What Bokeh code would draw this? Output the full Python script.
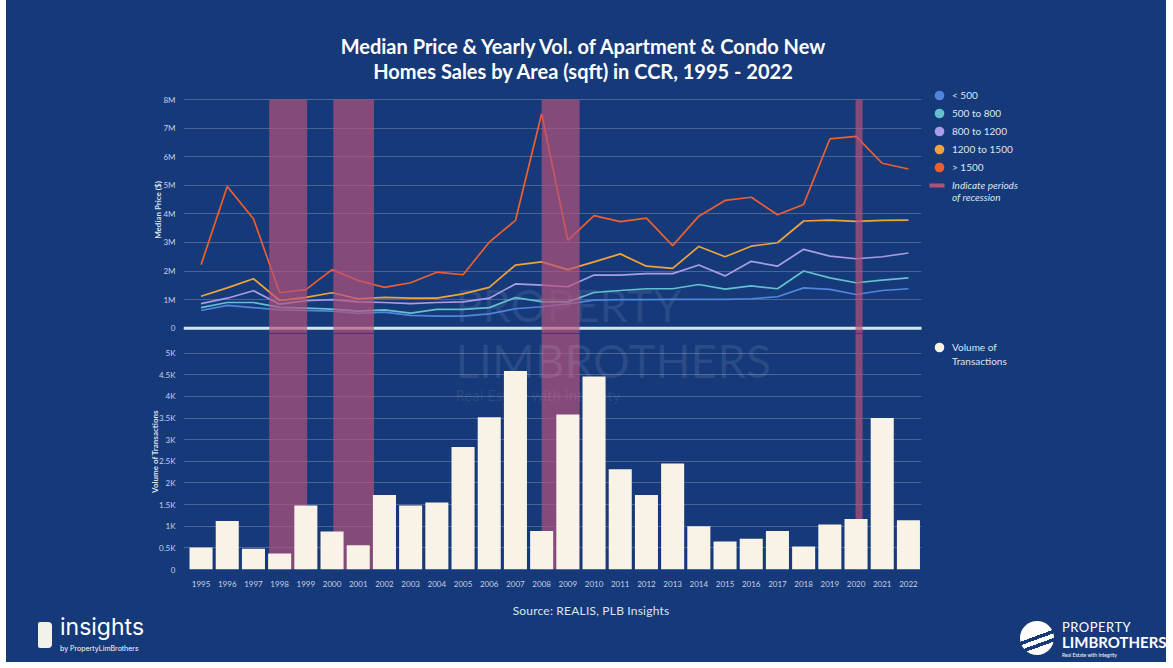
from bokeh.plotting import figure
from bokeh.models import Range1d, FixedTicker, BoxAnnotation, Legend, LegendItem, Label, Span, Div
from bokeh.layouts import column
from bokeh.embed import file_html
from bokeh.resources import INLINE

# ---------------- data ----------------
years = list(range(1995, 2023))

# median price in $ millions
price_lt500 = [0.62, 0.80, 0.72, 0.64, 0.62, 0.60, 0.52, 0.56, 0.45, 0.42, 0.42, 0.50, 0.68, 0.75,
               0.85, 0.98, 1.00, 1.00, 1.01, 1.01, 1.01, 1.03, 1.10, 1.41, 1.36, 1.18, 1.32, 1.38]
price_500_800 = [0.72, 0.90, 0.90, 0.73, 0.70, 0.67, 0.60, 0.64, 0.53, 0.66, 0.66, 0.72, 1.07, 0.93,
                 0.92, 1.25, 1.32, 1.38, 1.38, 1.53, 1.37, 1.48, 1.38, 2.00, 1.76, 1.59, 1.68, 1.76]
price_800_1200 = [0.86, 1.05, 1.31, 0.84, 0.96, 1.00, 0.92, 0.90, 0.86, 0.90, 0.92, 1.05, 1.55, 1.51,
                  1.45, 1.86, 1.86, 1.91, 1.91, 2.21, 1.83, 2.34, 2.17, 2.76, 2.52, 2.43, 2.50, 2.63]
price_1200_1500 = [1.12, 1.41, 1.73, 0.97, 1.08, 1.24, 1.03, 1.08, 1.05, 1.05, 1.20, 1.43, 2.21, 2.32,
                   2.05, 2.32, 2.60, 2.17, 2.09, 2.86, 2.50, 2.87, 2.99, 3.75, 3.78, 3.74, 3.77, 3.78]
price_gt1500 = [2.22, 4.96, 3.83, 1.24, 1.35, 2.05, 1.67, 1.43, 1.59, 1.96, 1.87, 3.01, 3.77, 7.50,
                3.07, 3.94, 3.73, 3.85, 2.89, 3.92, 4.47, 4.58, 3.97, 4.33, 6.62, 6.71, 5.77, 5.57]
series_names = ["< 500", "500 to 800", "800 to 1200", "1200 to 1500", "> 1500"]

volume = [510, 1120, 480, 370, 1480, 880, 560, 1720, 1480, 1550, 2830, 3520, 4590, 890,
          3580, 4460, 2320, 1720, 2450, 1000, 650, 710, 890, 530, 1040, 1170, 3500, 1140]

recession_start = [1997.6, 2000.05, 2008.0, 2019.98]
recession_end = [1999.05, 2001.6, 2009.45, 2020.25]

price_ticks = [0, 1, 2, 3, 4, 5, 6, 7, 8]
price_tick_labels = ["0", "1M", "2M", "3M", "4M", "5M", "6M", "7M", "8M"]
volume_ticks = [0, 500, 1000, 1500, 2000, 2500, 3000, 3500, 4000, 4500, 5000]
volume_tick_labels = ["0", "0.5K", "1K", "1.5K", "2K", "2.5K", "3K", "3.5K", "4K", "4.5K", "5K"]

title_text = "Median Price &amp; Yearly Vol. of Apartment &amp; Condo New<br>Homes Sales by Area (sqft) in CCR, 1995 - 2022"
source_text = "Source: REALIS, PLB Insights"

# ---------------- style ----------------
BG = "#16397a"
FONT = "Lato"
TICK = "#c6d0e4"
TEXT = "#dde4f0"
BAND = "#b8527a"
CREAM = "#f8f2e7"
COLORS = ["#4f86db", "#62c0cf", "#a99ce6", "#f0a33a", "#ef5f2c"]
W = 1160
X_RANGE = (1994.33, 2031.85)   # chart area on the left, legend area on the right
PLOT_END = 2022.5              # right end of the gridded chart area
NAN = float("nan")


def style_axis(ax):
    ax.axis_line_color = None
    ax.major_tick_line_color = None
    ax.minor_tick_line_color = None
    ax.major_label_text_font = FONT
    ax.major_label_text_font_size = "8px"
    ax.major_label_text_color = TICK
    ax.axis_label_text_font = FONT
    ax.axis_label_text_font_size = "8px"
    ax.axis_label_text_font_style = "bold"
    ax.axis_label_text_color = TEXT


def legend_style(**kw):
    base = dict(spacing=0, padding=0, margin=0, label_standoff=0, background_fill_alpha=0,
                border_line_alpha=0, label_text_font=FONT, label_text_font_size="10px",
                label_text_color=TEXT)
    base.update(kw)
    return base


# ---------------- header ----------------
header = Div(text=f'<div style="position:absolute;left:0;top:34px;width:1154px;text-align:center;'
                  f'font-family:Lato;font-weight:bold;font-size:20px;line-height:25px;color:#ffffff;">'
                  f'{title_text}</div>',
             width=W, height=86, margin=0,
             styles={"background-color": BG, "position": "relative", "overflow": "hidden"})

# ---------------- top chart ----------------
top = figure(width=W, height=247, x_range=Range1d(*X_RANGE), y_range=Range1d(-0.185, 8.455),
             output_backend="svg", toolbar_location=None,
             min_border_left=177, min_border_right=0, min_border_top=0, min_border_bottom=0,
             background_fill_color=BG, border_fill_color=BG)
top.outline_line_color = None
top.xaxis.visible = False
top.xgrid.visible = False
top.ygrid.ticker = FixedTicker(ticks=price_ticks)
top.ygrid.grid_line_color = "#ffffff"
top.ygrid.grid_line_alpha = 0.22
ya = top.yaxis[0]
ya.ticker = FixedTicker(ticks=price_ticks)
ya.major_label_overrides = {t: l for t, l in zip(price_ticks, price_tick_labels)}
style_axis(ya)
ya.major_label_standoff = 2
ya.axis_label = "Median Price ($)"
ya.axis_label_standoff = -3

top.add_layout(Label(x=272, y=2, x_units="screen", y_units="screen", text="PROPERTY",
                     text_font=FONT, text_font_size="45px", text_color="#ffffff", text_alpha=0.09,
                     text_baseline="bottom", level="underlay"))

series = [price_lt500, price_500_800, price_800_1200, price_1200_1500, price_gt1500]
for vals, c in zip(series, COLORS):
    top.line(years, vals, line_color=c, line_width=1.7)

top.add_layout(Span(location=price_ticks[0], dimension="width", line_color="#cfe7ee", line_width=3))

for s, e in zip(recession_start, recession_end):
    top.add_layout(BoxAnnotation(left=s, right=e, top=price_ticks[-1], fill_color=BAND,
                                 fill_alpha=0.68, line_alpha=0))

# plain background over the legend area (hides grid lines there)
top.add_layout(BoxAnnotation(left=PLOT_END, fill_color=BG, fill_alpha=1, line_alpha=0))

# legend proxies (NaN position: drawn only in the legend)
legend_items = []
for name, c in zip(series_names, COLORS):
    r = top.scatter(x=[NAN], y=[NAN], size=8, fill_color=c, line_color=c, line_width=2.5)
    legend_items.append(LegendItem(label=name, renderers=[r]))
leg1 = Legend(items=legend_items, location=(743, 157),
              **legend_style(glyph_width=26, glyph_height=18, label_height=18))
top.add_layout(leg1)

r_rec = top.line(x=[NAN, NAN], y=[NAN, NAN], line_color=BAND, line_width=4, line_alpha=0.95,
                 line_dash="0 3 15 100")
r_blank = top.line(x=[NAN, NAN], y=[NAN, NAN], line_alpha=0)
leg2 = Legend(items=[LegendItem(label="Indicate periods", renderers=[r_rec]),
                     LegendItem(label="of recession", renderers=[r_blank])],
              location=(743, 130),
              **legend_style(glyph_width=26, glyph_height=12, label_height=12,
                             label_text_font_style="italic"))
top.add_layout(leg2)

# ---------------- bottom chart ----------------
bot = figure(width=W, height=262, x_range=Range1d(*X_RANGE), y_range=Range1d(0, 5455),
             output_backend="svg", toolbar_location=None,
             min_border_left=177, min_border_right=0, min_border_top=0, min_border_bottom=26,
             background_fill_color=BG, border_fill_color=BG)
bot.outline_line_color = None
bot.xgrid.visible = False
bot.ygrid.ticker = FixedTicker(ticks=volume_ticks)
bot.ygrid.grid_line_color = "#ffffff"
bot.ygrid.grid_line_alpha = 0.22

for s, e in zip(recession_start, recession_end):
    bot.add_layout(BoxAnnotation(left=s, right=e, bottom=volume_ticks[0], fill_color=BAND,
                                 fill_alpha=0.68, line_alpha=0, level="underlay"))

bot.add_layout(Label(x=272, y=182, x_units="screen", y_units="screen", text="LIMBROTHERS",
                     text_font=FONT, text_font_size="46px", text_color="#ffffff", text_alpha=0.09,
                     text_baseline="bottom", level="underlay"))
bot.add_layout(Label(x=272, y=166, x_units="screen", y_units="screen", text="Real Estate with Integrity",
                     text_font=FONT, text_font_size="15px", text_color="#ffffff", text_alpha=0.09,
                     text_baseline="bottom", level="underlay"))

bot.vbar(x=years, top=volume, width=0.88, fill_color=CREAM, line_color=None)

bot.add_layout(BoxAnnotation(left=PLOT_END, fill_color=BG, fill_alpha=1, line_alpha=0))

xa = bot.xaxis[0]
xa.ticker = FixedTicker(ticks=years)
style_axis(xa)
xa.major_label_standoff = 5

yb = bot.yaxis[0]
yb.ticker = FixedTicker(ticks=volume_ticks)
yb.major_label_overrides = {t: l for t, l in zip(volume_ticks, volume_tick_labels)}
style_axis(yb)
yb.major_label_standoff = 2
yb.axis_label = "Volume of Transactions"
yb.axis_label_standoff = -4

r_vol = bot.scatter(x=[NAN], y=[NAN], size=8, fill_color=CREAM, line_color=CREAM, line_width=4)
r_vblank = bot.scatter(x=[NAN], y=[NAN], size=8, fill_alpha=0, line_alpha=0)
leg3 = Legend(items=[LegendItem(label="Volume of", renderers=[r_vol]),
                     LegendItem(label="Transactions", renderers=[r_vblank])],
              location=(743, 201),
              **legend_style(glyph_width=26, glyph_height=14, label_height=14))
bot.add_layout(leg3)

# ---------------- footer ----------------
footer_html = (
    f'<div style="position:absolute;left:435px;top:7px;width:300px;text-align:center;font-family:Lato;'
    f'font-size:12px;letter-spacing:0.2px;color:{TEXT};">{source_text}</div>'
    '<div style="position:absolute;left:32px;top:27px;width:14px;height:26px;background:#f4f1ea;'
    'border-radius:2px 4px 4px 2px;"></div>'
    '<div style="position:absolute;left:54px;top:21px;font-family:Inter;font-size:23px;line-height:23px;'
    'color:#ffffff;">insights</div>'
    '<div style="position:absolute;left:54px;top:50px;font-family:Inter;font-size:7px;line-height:8px;'
    'color:#ffffff;">by PropertyLimBrothers</div>'
    '<div style="position:absolute;left:1014px;top:26px;width:34px;height:34px;border-radius:17px;'
    'background:linear-gradient(160deg,#ffffff 0%,#ffffff 45%,' + BG + ' 45%,' + BG + ' 53%,#ffffff 53%,'
    '#ffffff 63%,' + BG + ' 63%,' + BG + ' 71%,#ffffff 71%);"></div>'
    '<div style="position:absolute;left:1056px;top:25px;font-family:Lato;font-size:13px;line-height:14px;'
    'letter-spacing:0.5px;color:#ffffff;">PROPERTY</div>'
    '<div style="position:absolute;left:1056px;top:39px;font-family:Lato;font-weight:bold;font-size:15px;'
    'line-height:16px;color:#ffffff;">LIMBROTHERS</div>'
    '<div style="position:absolute;left:1056px;top:57px;font-family:Lato;font-size:5px;line-height:6px;'
    'color:#ffffff;">Real Estate with Integrity</div>'
)
footer = Div(text=footer_html, width=W, height=67, margin=0,
             styles={"background-color": BG, "position": "relative", "overflow": "hidden"})

layout = column(header, top, bot, footer, spacing=0, margin=(0, 0, 0, 6),
                styles={"background-color": BG})
open("out.html", "w").write(file_html(layout, INLINE))
